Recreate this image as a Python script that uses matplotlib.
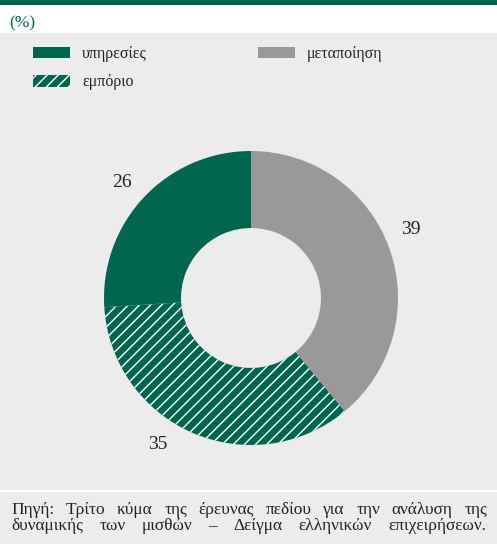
import matplotlib
matplotlib.use("Agg")
import matplotlib.pyplot as plt
from matplotlib.patches import Rectangle, Patch
import numpy as np

plt.rcParams['font.family'] = ['Liberation Serif', 'DejaVu Serif']
plt.rcParams['hatch.linewidth'] = 1.0

# Data
categories = ["μεταποίηση", "εμπόριο", "υπηρεσίες"]
values = [39, 35, 26]
value_labels = ["39", "35", "26"]
colors = ["#999999", "#00664f", "#00664f"]
hatches = [None, "///", None]
legend_order = ["υπηρεσίες", "εμπόριο", "μεταποίηση"]
unit_label = "(%)"
source_words_1 = "Πηγή: Τρίτο κύμα της έρευνας πεδίου για την ανάλυση της".split()
source_words_2 = "δυναμικής των μισθών – Δείγμα ελληνικών επιχειρήσεων.".split()

GREEN = "#00664f"
BG = "#ececec"
W, H = 497, 544
fig = plt.figure(figsize=(W / 100, H / 100), dpi=100, facecolor=BG)

def fy(py):
    return 1 - py / H

# header bands
fig.patches.append(Rectangle((0, fy(33)), 1, 28 / H, transform=fig.transFigure,
                             facecolor="white", edgecolor="none", zorder=0))
fig.patches.append(Rectangle((0, fy(5)), 1, 5 / H, transform=fig.transFigure,
                             facecolor=GREEN, edgecolor="none", zorder=1))
fig.patches.append(Rectangle((0, fy(492)), 1, 1.6 / H, transform=fig.transFigure,
                             facecolor="white", edgecolor="none", zorder=1))
fig.text(9 / W, fy(27), unit_label, color=GREEN, fontsize=12.5, va="baseline", ha="left")

# donut
cx, cy, r = 251, 298, 147
ax = fig.add_axes([(cx - r) / W, (H - cy - r) / H, 2 * r / W, 2 * r / H])
wedges, _ = ax.pie(values, colors=colors, startangle=90, counterclock=False,
                   radius=1, wedgeprops=dict(width=0.524, linewidth=0))
ax.set_xlim(-1, 1)
ax.set_ylim(-1, 1)
ax.axis("off")
for w, h in zip(wedges, hatches):
    if h:
        w.set_hatch(h)
        w.set_edgecolor("white")
        w.set_linewidth(0)

# value labels (offsets around the ring)
label_pos = {"39": (411, 230), "35": (158, 444.5), "26": (122, 182.5)}
for lab in value_labels:
    px, py = label_pos[lab]
    ax.text((px - cx) / r, (cy - py) / r, lab, ha="center", va="center",
            fontsize=14, color="#222222", clip_on=False)

# legend
handles_map = {c: Patch(facecolor=col, hatch=h, edgecolor=("white" if h else col), linewidth=0)
               for c, col, h in zip(categories, colors, hatches)}
handles = [handles_map[c] for c in legend_order]
fs = 11.5
px_per = fs * 100 / 72
leg = fig.legend(handles, legend_order, loc="upper left", bbox_to_anchor=(33 / W, fy(46)),
                 ncol=2, frameon=False, fontsize=fs, handlelength=37 / px_per,
                 handleheight=12 / px_per, handletextpad=12 / px_per,
                 labelspacing=0.78, columnspacing=111 / px_per, borderpad=0, borderaxespad=0)
for t in leg.get_texts():
    t.set_color("#222222")

# justified footer
fig.canvas.draw()
renderer = fig.canvas.get_renderer()

def justify(words, y_base, xa, xb, fsz):
    texts = [fig.text(0, fy(y_base), w, fontsize=fsz, va="baseline", ha="left", color="#222222")
             for w in words]
    widths = [t.get_window_extent(renderer).width for t in texts]
    gap = (xb - xa - sum(widths)) / (len(words) - 1)
    x = xa
    for t, wd in zip(texts, widths):
        t.set_x(x / W)
        x += wd + gap

justify(source_words_1, 514, 11, 487, 12.5)
justify(source_words_2, 530, 11, 486, 12.5)

fig.savefig("out.png", dpi=100, facecolor=BG)
